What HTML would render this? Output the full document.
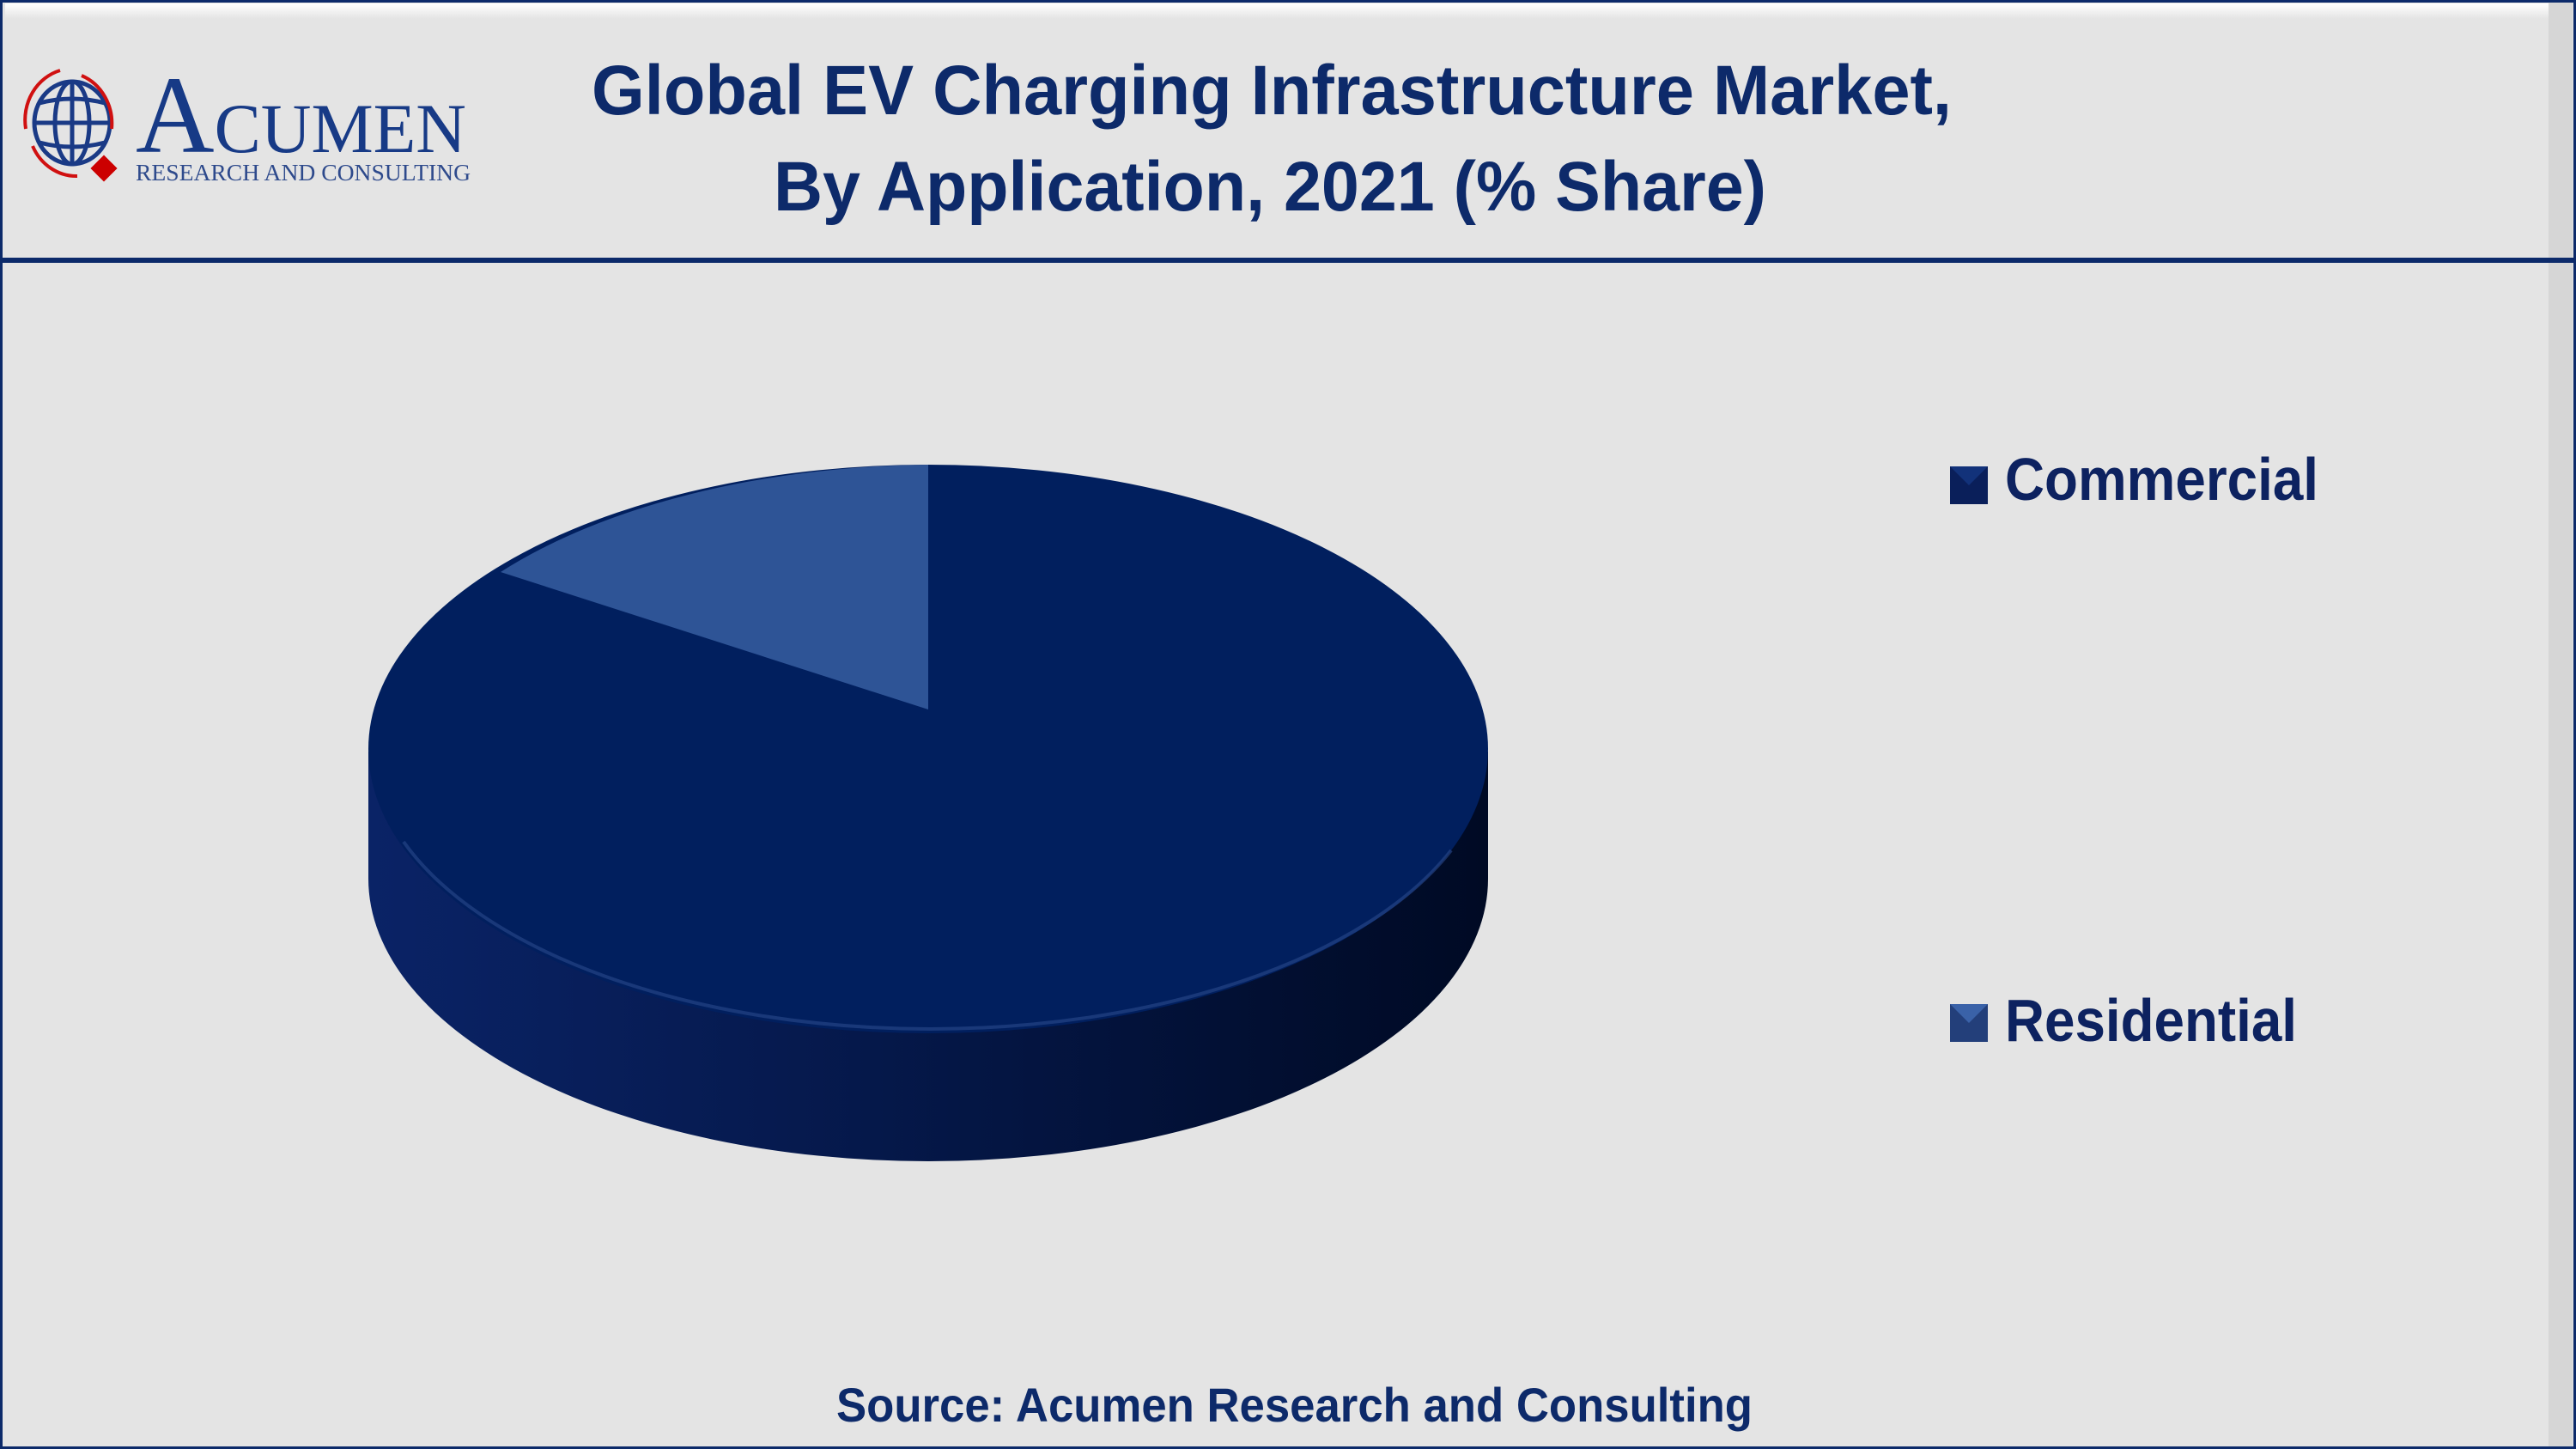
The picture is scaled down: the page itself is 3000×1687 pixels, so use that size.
<!DOCTYPE html>
<html><head><meta charset="utf-8"><style>
html,body{margin:0;padding:0;background:#e4e4e4;}
svg{display:block;}
</style></head><body>
<svg width="3000" height="1687" viewBox="0 0 3000 1687" xmlns="http://www.w3.org/2000/svg">
<defs>
<linearGradient id="side" x1="0" x2="1" y1="0" y2="0">
<stop offset="0" stop-color="#0a2366"/>
<stop offset="0.45" stop-color="#05184a"/>
<stop offset="1" stop-color="#000a24"/>
</linearGradient>
<linearGradient id="edge" x1="0" x2="0" y1="0" y2="1">
<stop offset="0" stop-color="#ffffff"/>
<stop offset="1" stop-color="#e4e4e4"/>
</linearGradient>
</defs>
<rect width="3000" height="1687" fill="#e4e4e4"/>
<rect x="6" y="4" width="2980" height="18" fill="url(#edge)"/>
<rect x="2968" y="0" width="28" height="1687" fill="#d6d6d6"/>
<rect x="1.5" y="1.5" width="2997" height="1684" fill="none" stroke="#0c2a6a" stroke-width="3"/>
<rect x="0" y="300" width="3000" height="6" fill="#0c2a6a"/>
<g fill="none" stroke="#1a3a86" stroke-width="5">
<ellipse cx="84" cy="143" rx="44" ry="48"/>
<ellipse cx="84" cy="143" rx="20" ry="48"/>
<line x1="84" y1="95" x2="84" y2="191"/>
<line x1="40" y1="143" x2="128" y2="143"/>
<path d="M46 120 Q84 110 122 120 M46 166 Q84 176 122 166"/>
</g>
<g fill="none" stroke="#d01010" stroke-width="4">
<path d="M30 150 A56 60 0 0 1 70 82"/>
<path d="M95 88 A56 60 0 0 1 130 150"/>
<path d="M38 170 A56 60 0 0 0 90 205"/>
</g>
<rect x="110" y="185" width="22" height="22" fill="#cc0000" transform="rotate(45 121 196)"/>
<text x="158" y="177" font-family="Liberation Serif, serif" font-size="128" fill="#173a86" textLength="385" lengthAdjust="spacingAndGlyphs">A<tspan font-size="82">CUMEN</tspan></text>
<text x="158" y="210" font-family="Liberation Serif, serif" font-size="27" fill="#2e4a8c" textLength="390" lengthAdjust="spacingAndGlyphs">RESEARCH AND CONSULTING</text>
<g font-family="Liberation Sans, sans-serif" font-weight="bold" fill="#0d2a6a">
<text x="689" y="133" font-size="82" textLength="1584" lengthAdjust="spacingAndGlyphs">Global EV Charging Infrastructure Market,</text>
<text x="901" y="245" font-size="82" textLength="1156" lengthAdjust="spacingAndGlyphs">By Application, 2021 (% Share)</text>
</g>
<path d="M429 875 L429 1023 A652 329 0 0 0 1733 1023 L1733 875 Z" fill="url(#side)"/>
<ellipse cx="1081" cy="872" rx="652" ry="331" fill="#011f5e"/>
<path d="M470 980 A652 329 0 0 0 1690 990" fill="none" stroke="#2a4a8c" stroke-width="4" opacity="0.6"/>
<path d="M1081 826 L1081 541 A652 331 0 0 0 583 666 Z" fill="#2e5496"/>
<rect x="2271" y="543" width="44" height="44" fill="#0a1f5a"/>
<path d="M2271 543 L2293 565 L2315 543 Z" fill="#12327a"/>
<rect x="2271" y="1169" width="44" height="44" fill="#233f7a"/>
<path d="M2271 1169 L2293 1191 L2315 1169 Z" fill="#3a62a8"/>
<g font-family="Liberation Sans, sans-serif" font-weight="bold" fill="#0d2260" font-size="70">
<text x="2335" y="582" textLength="365" lengthAdjust="spacingAndGlyphs">Commercial</text>
<text x="2335" y="1212" textLength="340" lengthAdjust="spacingAndGlyphs">Residential</text>
</g>
<text x="974" y="1655" font-family="Liberation Sans, sans-serif" font-weight="bold" fill="#0d2a6a" font-size="56" textLength="1067" lengthAdjust="spacingAndGlyphs">Source: Acumen Research and Consulting</text>
</svg>
</body></html>
